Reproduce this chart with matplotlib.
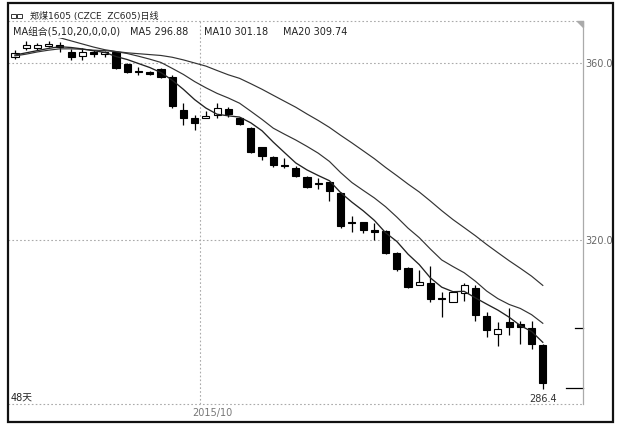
"""Candlestick chart with MA5 / MA10 / MA20, ZC605 daily"""

import matplotlib
matplotlib.use("Agg")
import matplotlib.pyplot as plt
import matplotlib.patches as mpatches

plt.rcParams['font.family'] = ['DejaVu Sans', 'Noto Sans CJK SC']

# daily OHLC, 48 days
opens = [361.4, 363.4, 363.4, 363.8, 364.1, 362.5, 361.6, 362.5, 362.0, 362.5,
         359.8, 358.2, 358.0, 358.6, 356.8, 349.4, 347.6, 347.6, 348.2, 349.6,
         347.6, 345.3, 341.0, 338.8, 337.0, 336.3, 334.2, 332.9, 333.1, 330.6,
         324.1, 324.1, 322.3, 322.0, 317.1, 313.7, 309.8, 310.3, 306.9, 306.0,
         308.0, 309.2, 302.8, 298.8, 301.5, 301.0, 300.1, 296.3]
highs = [362.9, 365.0, 364.5, 365.0, 364.7, 363.2, 363.4, 362.9, 362.7, 362.7,
         360.0, 359.1, 358.2, 358.9, 357.3, 351.0, 348.2, 349.2, 351.0, 350.1,
         347.8, 345.5, 341.0, 339.0, 338.5, 336.7, 334.5, 334.0, 333.1, 330.9,
         325.4, 324.1, 323.8, 322.3, 317.3, 313.9, 313.2, 314.1, 308.3, 308.3,
         310.3, 309.8, 303.7, 301.5, 304.6, 301.7, 301.7, 296.5]
lows = [360.9, 362.9, 362.9, 363.6, 362.5, 360.7, 360.7, 361.4, 361.4, 358.6,
        357.7, 357.3, 357.3, 356.6, 349.8, 346.0, 344.9, 347.6, 347.6, 347.8,
        346.0, 339.7, 338.1, 336.5, 336.3, 334.2, 331.8, 331.5, 328.8, 322.7,
        321.8, 321.6, 320.0, 316.8, 313.0, 309.2, 309.8, 306.0, 302.6, 306.0,
        306.2, 301.7, 298.1, 296.0, 298.5, 296.5, 295.4, 286.4]
closes = [362.3, 364.1, 364.1, 364.3, 363.6, 361.4, 362.5, 362.0, 362.5, 358.9,
          358.0, 358.0, 357.5, 356.8, 350.3, 347.6, 346.4, 348.0, 349.8, 348.5,
          346.2, 339.9, 339.0, 337.0, 336.7, 334.5, 332.0, 332.7, 331.1, 323.2,
          323.8, 322.3, 321.8, 317.1, 313.4, 309.4, 310.5, 306.7, 306.7, 308.3,
          309.8, 303.1, 299.7, 299.9, 300.3, 300.3, 296.5, 287.7]

# moving average lines as shown on the chart
ma5 = [361.8, 362.3, 362.8, 363.3, 363.68, 363.5, 363.18, 362.76, 362.4, 361.46,
       360.78, 359.88, 358.98, 357.84, 356.12, 354.04, 351.72, 349.82, 348.42, 348.06,
       347.78, 346.48, 344.68, 342.12, 339.76, 337.42, 335.84, 334.58, 333.4, 330.7,
       328.56, 326.62, 324.44, 321.64, 319.68, 316.8, 314.44, 311.42, 309.34, 308.32,
       308.4, 306.92, 305.52, 304.16, 302.56, 300.66, 299.34, 296.88]
ma10 = [361.6, 362.0, 362.5, 362.9, 363.2, 363.2, 363.1, 362.9, 362.8, 362.57,
        362.14, 361.53, 360.87, 360.12, 358.79, 357.41, 355.80, 354.40, 353.13, 352.09,
        350.91, 349.10, 347.25, 345.27, 343.91, 342.60, 341.16, 339.63, 337.76, 335.23,
        332.99, 331.23, 329.51, 327.52, 325.19, 322.68, 320.53, 317.93, 315.49, 314.00,
        312.60, 310.68, 308.47, 306.75, 305.44, 304.53, 303.13, 301.18]
ma20 = [367.8, 367.2, 366.6, 366.1, 365.7, 365.0, 364.3, 363.6, 363.0, 362.6,
        362.3, 362.1, 361.9, 361.7, 361.3, 360.7, 360.0, 359.3, 358.3, 357.33,
        356.53, 355.32, 354.06, 352.70, 351.35, 350.01, 348.48, 347.02, 345.45, 343.66,
        341.95, 340.17, 338.38, 336.40, 334.55, 332.64, 330.85, 328.78, 326.63, 324.62,
        322.80, 320.96, 318.99, 317.14, 315.32, 313.61, 311.83, 309.74]

ytick_vals = [320, 360]
ytick_labels = ['320.0', '360.0']
month_label = '2015/10'
month_pos = 16.5      # boundary between Sept and Oct candles
low_label = '286.4'

W, H = 620, 425
GRID = '#aaaaaa'


def fx(px):
    return px / W


def fy(py):
    return 1 - py / H


def graph():
    fig = plt.figure(figsize=(6.2, 4.25), dpi=100)
    ax = fig.add_axes([fx(8), fy(404), fx(583) - fx(8), fy(21) - fy(404)])

    x = list(range(len(closes)))
    # wicks
    ax.vlines(x, lows, highs, color='black', lw=0.9, zorder=2)
    # bodies
    for i in x:
        o, c = opens[i], closes[i]
        h = abs(c - o)
        if h < 0.2:
            h = 0.2
        bottom = min(o, c)
        face = 'white' if c > o else 'black'
        ax.bar(i, h, bottom=bottom, width=0.64, color=face,
               edgecolor='black', lw=0.8, zorder=3)

    ax.plot(x, ma20, color='#333333', lw=0.85, zorder=4)
    ax.plot(x, ma10, color='#333333', lw=0.85, zorder=4)
    ax.plot(x, ma5, color='#222222', lw=0.95, zorder=4)

    ax.set_xlim(-0.62, 50.58)
    ax.set_ylim(282.94, 369.49)

    # grid
    dots = (0, (1.5, 2))
    for v in ytick_vals:
        ax.axhline(v, color=GRID, lw=0.8, ls=dots, zorder=1)
    ax.axvline(month_pos, color=GRID, lw=0.8, ls=dots, zorder=1)

    # frame
    for s in ['left', 'bottom', 'top']:
        ax.spines[s].set_visible(False)
    ax.spines['right'].set_color(GRID)
    ax.spines['right'].set_linewidth(0.9)
    ax.axhline(369.49, color=GRID, lw=0.8, ls=dots, clip_on=False)
    ax.axhline(282.94, color=GRID, lw=0.8, ls=dots, clip_on=False)

    ax.yaxis.tick_right()
    ax.set_yticks(ytick_vals)
    ax.set_yticklabels(ytick_labels, color='#666666', fontsize=7)
    ax.tick_params(axis='y', length=0, pad=2)
    ax.set_xticks([])

    # small marks on the right axis
    ax.plot([49.9, 50.58], [300.2, 300.2], color='black', lw=0.9, clip_on=False)
    ax.plot([49.1, 50.58], [286.6, 286.6], color='black', lw=0.9, clip_on=False)

    ax.text(47, 284.1, low_label, ha='center', va='center', fontsize=7, color='#333333')
    ax.text(-0.35, 284.3, '48天', ha='left', va='center', fontsize=7, color='#222222')
    fig.text(fx(212), fy(413), month_label, ha='center', va='center',
             fontsize=7, color='#777777')

    # corner triangle
    tri = mpatches.Polygon([[fx(577), fy(21)], [fx(583), fy(21)], [fx(583), fy(27)]],
                           closed=True, transform=fig.transFigure,
                           color='#aaaaaa', zorder=5)
    fig.patches.append(tri)

    # header
    for px in (11, 17):
        r = mpatches.Rectangle((fx(px), fy(18)), 5 / W, 4 / H, transform=fig.transFigure,
                               fill=False, edgecolor='#333333', lw=0.7)
        fig.patches.append(r)
    fig.text(fx(30), fy(16), '郑煤1605 (CZCE  ZC605)日线', ha='left', va='center',
             fontsize=6.5, color='#222222')
    kw = dict(ha='left', va='center', fontsize=7, color='#222222', zorder=10,
              bbox=dict(facecolor='white', edgecolor='none', pad=0.5))
    fig.text(fx(13), fy(32), 'MA组合(5,10,20,0,0,0)', **kw)
    fig.text(fx(130), fy(32), 'MA5 296.88', **kw)
    fig.text(fx(204), fy(32), 'MA10 301.18', **kw)
    fig.text(fx(283), fy(32), 'MA20 309.74', **kw)

    # outer frame
    frame = mpatches.Rectangle((fx(8), fy(422)), fx(613) - fx(8), fy(3) - fy(422),
                               transform=fig.transFigure, fill=False,
                               edgecolor='#111111', lw=1.6, zorder=20)
    fig.patches.append(frame)

    fig.savefig('out.png', dpi=100)


def main():
    graph()


if __name__ == "__main__":
    main()
